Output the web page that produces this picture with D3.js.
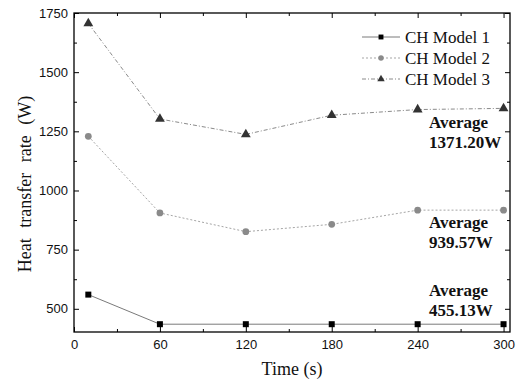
<!DOCTYPE html>
<html>
<head>
<meta charset="utf-8">
<script src="https://d3js.org/d3.v7.min.js"></script>
<style>
  body { margin: 0; background: #fff; }
</style>
</head>
<body>
<svg width="520" height="384"></svg>
<script>
// data
var times = [10, 60, 120, 180, 240, 300];
var model1 = [560, 435, 435, 435, 435, 435];
var model2 = [1229, 905, 826, 857, 917, 917];
var model3 = [1706, 1302, 1237, 1318, 1342, 1347];
var seriesNames = ["CH Model 1", "CH Model 2", "CH Model 3"];
var averages = ["455.13W", "939.57W", "1371.20W"];
var xTicks = [0, 60, 120, 180, 240, 300];
var yTicks = [500, 750, 1000, 1250, 1500, 1750];

var svg = d3.select("svg"),
    margin = {top: 13, right: 10, bottom: 52, left: 74},
    width = 520 - margin.left - margin.right,
    height = 384 - margin.top - margin.bottom,
    g = svg.append("g").attr("transform", "translate(" + margin.left + "," + margin.top + ")");

var x = d3.scaleLinear().domain([0, 304.5]).range([0, width]);
var y = d3.scaleLinear().domain([402, 1750]).range([height, 0]);

var serif = "'Liberation Serif', 'Times New Roman', serif";

// minor ticks
var xMinor = d3.range(30, 301, 60);
var yMinor = d3.range(625, 1750, 250);

function tickStyle(sel) {
  sel.select(".domain").remove();
  sel.selectAll("line").attr("stroke", "#000").attr("stroke-width", 1);
  sel.selectAll("text").style("font-family", "'Liberation Sans', Arial, sans-serif").style("font-size", "13px").attr("fill", "#111");
}

// bottom axis
g.append("g").attr("transform", "translate(0," + height + ")")
  .call(d3.axisBottom(x).tickValues(xTicks).tickSize(-5).tickPadding(8).tickFormat(d3.format("d")))
  .call(tickStyle);
g.append("g").attr("transform", "translate(0," + height + ")")
  .call(d3.axisBottom(x).tickValues(xMinor).tickSize(-3).tickFormat(""))
  .call(tickStyle);
// top axis
g.append("g")
  .call(d3.axisTop(x).tickValues(xTicks).tickSize(-5).tickFormat(""))
  .call(tickStyle);
g.append("g")
  .call(d3.axisTop(x).tickValues(xMinor).tickSize(-3).tickFormat(""))
  .call(tickStyle);
// left axis
g.append("g")
  .call(d3.axisLeft(y).tickValues(yTicks).tickSize(-5).tickPadding(6).tickFormat(d3.format("d")))
  .call(tickStyle);
g.append("g")
  .call(d3.axisLeft(y).tickValues(yMinor).tickSize(-3).tickFormat(""))
  .call(tickStyle);
// right axis
g.append("g").attr("transform", "translate(" + width + ",0)")
  .call(d3.axisRight(y).tickValues(yTicks).tickSize(-5).tickFormat(""))
  .call(tickStyle);
g.append("g").attr("transform", "translate(" + width + ",0)")
  .call(d3.axisRight(y).tickValues(yMinor).tickSize(-3).tickFormat(""))
  .call(tickStyle);

// frame
g.append("rect")
  .attr("width", width).attr("height", height)
  .attr("fill", "none").attr("stroke", "#000").attr("stroke-width", 1.3);

var series = [
  {name: seriesNames[0], values: model1, stroke: "#7a7a7a", dash: null, marker: "square", fill: "#000"},
  {name: seriesNames[1], values: model2, stroke: "#a5a5a5", dash: "2,2", marker: "circle", fill: "#8a8a8a"},
  {name: seriesNames[2], values: model3, stroke: "#8a8a8a", dash: "4,2,1,2", marker: "triangle", fill: "#333"}
];

var line = d3.line()
  .x(function(d, i) { return x(times[i]); })
  .y(function(d) { return y(d); });

var symbols = {square: d3.symbolSquare, circle: d3.symbolCircle, triangle: d3.symbolTriangle};

series.forEach(function(s) {
  g.append("path")
    .attr("d", line(s.values))
    .attr("fill", "none")
    .attr("stroke", s.stroke)
    .attr("stroke-width", 1)
    .attr("stroke-dasharray", s.dash);
  g.selectAll(null)
    .data(s.values)
    .enter()
    .append("path")
    .attr("transform", function(d, i) { return "translate(" + x(times[i]) + "," + y(d) + ")"; })
    .attr("d", d3.symbol().type(symbols[s.marker]).size(s.marker == "triangle" ? 42 : 36))
    .attr("fill", s.fill);
});

// legend
var legend = svg.append("g").attr("transform", "translate(362,37)");
series.forEach(function(s, i) {
  var row = legend.append("g").attr("transform", "translate(0," + (i * 21) + ")");
  row.append("line")
    .attr("x1", 0).attr("x2", 38)
    .attr("stroke", s.stroke).attr("stroke-width", 1)
    .attr("stroke-dasharray", s.dash);
  row.append("path")
    .attr("transform", "translate(19,0)")
    .attr("d", d3.symbol().type(symbols[s.marker]).size(24))
    .attr("fill", s.fill);
  row.append("text")
    .attr("x", 43).attr("y", 6)
    .style("font-family", serif)
    .style("font-size", "17px")
    .attr("fill", "#111")
    .text(s.name);
});

// average annotations
var annY = [[296, 316], [228, 248], [128, 148]];
averages.forEach(function(a, i) {
  var t = svg.append("text")
    .style("font-family", serif)
    .style("font-size", "17px")
    .style("font-weight", "bold")
    .attr("fill", "#111");
  t.append("tspan").attr("x", 429).attr("y", annY[i][0]).text("Average");
  t.append("tspan").attr("x", 429).attr("y", annY[i][1]).text(a);
});

// axis titles
svg.append("text")
  .attr("x", 292)
  .attr("y", 375)
  .attr("text-anchor", "middle")
  .style("font-family", serif)
  .style("font-size", "18px")
  .attr("fill", "#111")
  .text("Time (s)");

svg.append("text")
  .attr("transform", "translate(31,184) rotate(-90)")
  .attr("text-anchor", "middle")
  .style("font-family", serif)
  .style("font-size", "18px")
  .style("word-spacing", "6px")
  .attr("fill", "#111")
  .text("Heat transfer rate (W)");
</script>
</body>
</html>
